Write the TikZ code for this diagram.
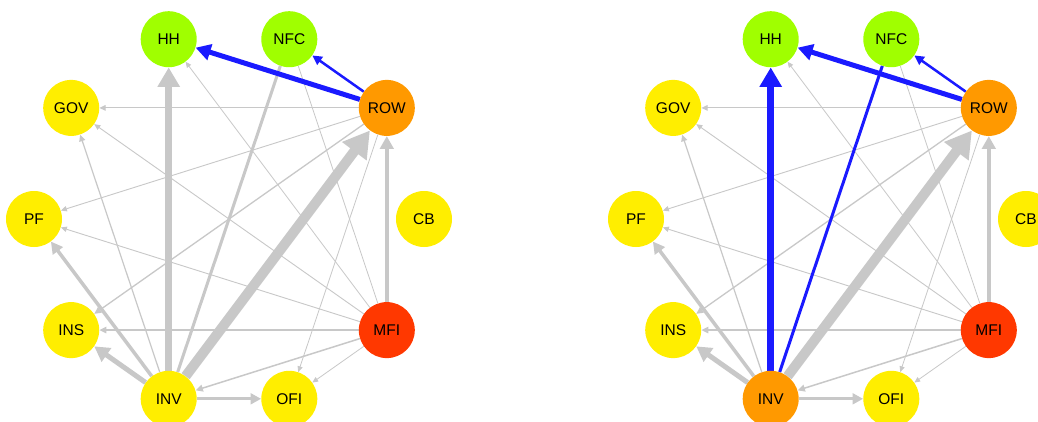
\documentclass[tikz,border=0pt]{standalone}
\usepackage{fontspec}
\setmainfont{Liberation Sans}
\usetikzlibrary{arrows.meta}
\definecolor{cgreen}{HTML}{A0FF00}
\definecolor{cyellow}{HTML}{FFEE00}
\definecolor{corange}{HTML}{FF9900}
\definecolor{cred}{HTML}{FF3800}
\definecolor{egray}{HTML}{C8C8C8}
\definecolor{eblue}{HTML}{1A1AFF}
\tikzset{
  vtx/.style={circle, minimum size=56pt, inner sep=0pt, fill=#1, font=\fontsize{15.5pt}{15.5pt}\selectfont},
  ed/.style={draw=egray, line width=#1, -{Triangle[length=4pt 2.2, width=3pt 2.6]}},
  pl/.style={draw=egray, line width=#1},
}
\pgfdeclarelayer{background}
\pgfdeclarelayer{paper}
\pgfsetlayers{paper,background,main}
\newcommand{\drawpanel}[5]{%
  \begin{scope}[xshift=#2pt]
  \node[vtx=cgreen]  (#1HH)  at (168.7,39.2)  {HH};
  \node[vtx=cgreen]  (#1NFC) at (289.3,39.2)  {NFC};
  \node[vtx=corange] (#1ROW) at (386.8,107.9) {ROW};
  \node[vtx=cyellow] (#1GOV) at (71.2,107.9)  {GOV};
  \node[vtx=cyellow] (#1PF)  at (34,219)      {PF};
  \node[vtx=cyellow] (#1CB)  at (424,219)     {CB};
  \node[vtx=cyellow] (#1INS) at (71.2,330.1)  {INS};
  \node[vtx=cred]    (#1MFI) at (386.8,330.1) {MFI};
  \node[vtx=#3]      (#1INV) at (168.7,398.8) {INV};
  \node[vtx=cyellow] (#1OFI) at (289.3,398.8) {OFI};
  \begin{pgfonlayer}{background}
  \draw[ed=0.8pt] (#1MFI) -- (#1HH);
  \draw[pl=0.8pt] (#1MFI) -- (#1NFC);
  \draw[ed=0.9pt] (#1MFI) -- (#1GOV);
  \draw[ed=0.9pt] (#1MFI) -- (#1PF);
  \draw[ed=1.3pt] (#1MFI) -- (#1INS);
  \draw[ed=1.5pt] (#1MFI) -- (#1INV);
  \draw[ed=0.8pt] (#1MFI) -- (#1OFI);
  \draw[ed=4pt]   (#1MFI) -- (#1ROW);
  \draw[ed=1pt]   (#1ROW) -- (#1GOV);
  \draw[ed=0.9pt] (#1ROW) -- (#1PF);
  \draw[ed=1.3pt] (#1ROW) -- (#1INS);
  \draw[ed=0.8pt] (#1ROW) -- (#1OFI);
  \draw[ed=1.2pt] (#1INV) -- (#1GOV);
  \draw[ed=3.5pt] (#1INV) -- (#1PF);
  \draw[ed=5pt]   (#1INV) -- (#1INS);
  \draw[ed=3pt]   (#1INV) -- (#1OFI);
  \draw[ed=10pt]  (#1INV) -- (#1ROW);
  \draw[ed=7pt, draw=#4, #4] (#1INV) -- (#1HH);
  \draw[pl=3pt, draw=#5] (#1INV) -- (#1NFC);
  \draw[ed=5pt, draw=eblue, eblue] (#1ROW) -- (#1HH);
  \draw[ed=2.5pt, draw=eblue, eblue] (#1ROW) -- (#1NFC);
  \end{pgfonlayer}
  \end{scope}}
\begin{document}
\begin{tikzpicture}[x=1pt,y=-1pt]
\useasboundingbox (0,0) rectangle (1038,421);
\clip (0,0) rectangle (1038,421);
\begin{pgfonlayer}{paper}
\fill[white] (0,0) rectangle (1038,421);
\end{pgfonlayer}
\drawpanel{L}{0}{cyellow}{egray}{egray}
\drawpanel{R}{602}{corange}{eblue}{eblue}
\end{tikzpicture}
\end{document}
